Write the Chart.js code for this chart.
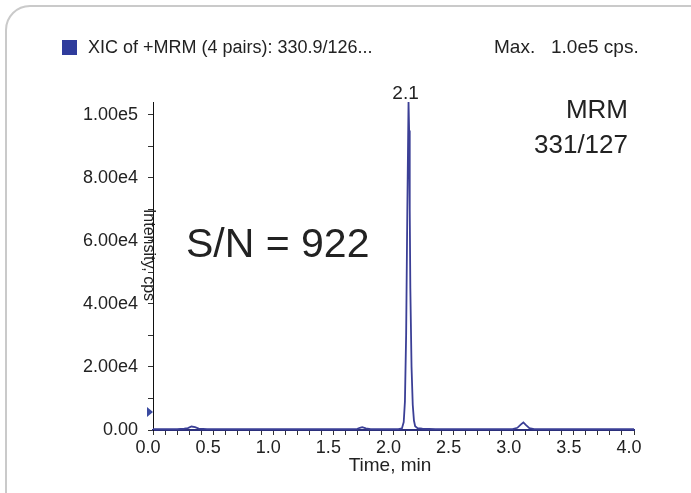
<!DOCTYPE html>
<html lang="en">

<head>
    <meta charset="UTF-8">
    <title>XIC MRM 331/127</title>
    <script src="https://cdn.jsdelivr.net/npm/chart.js"></script>
    <style>
        body {
            margin: 0;
            background: #ffffff;
        }

        .box {
            width: 691px;
            height: 493px;
            position: relative;
        }
    </style>
</head>

<body>
    <div class="box">
        <canvas id="myChartCanvas" width="691" height="493"></canvas>
    </div>

<script>
    // time (min) and intensity (cps)
    var tempos = [0.00, 0.10, 0.20, 0.26, 0.29, 0.32, 0.35, 0.38, 0.45, 0.70, 1.00, 1.30, 1.60, 1.70, 1.72, 1.74, 1.77, 1.81, 1.95,
        2.04, 2.07, 2.085, 2.095, 2.105, 2.115, 2.125, 2.13, 2.135, 2.14, 2.15, 2.16, 2.17, 2.18, 2.20, 2.24, 2.35,
        2.60, 2.90, 2.99, 3.03, 3.06, 3.08, 3.10, 3.13, 3.17, 3.40, 3.70, 4.00];
    var intensidade = [300, 300, 300, 400, 600, 1100, 900, 450, 300, 300, 300, 300, 300, 350, 700, 900, 500, 300, 300,
        300, 500, 2500, 9000, 30000, 70000, 104000, 95000, 70000, 45000, 20000, 8000, 3000, 1200, 600, 400, 300,
        300, 300, 300, 700, 1800, 2400, 1600, 600, 300, 300, 300, 300];

    // ticks: maiores com rotulo, menores so com traco
    var xTicksMaiores = [0.0, 0.5, 1.0, 1.5, 2.0, 2.5, 3.0, 3.5, 4.0];
    var xPassoMenor = 0.1;
    var yTicksMaiores = [0, 20000, 40000, 60000, 80000, 100000];
    var yLabels = ["0.00", "2.00e4", "4.00e4", "6.00e4", "8.00e4", "1.00e5"];
    var yPassoMenor = 10000;

    var pontos = [];
    for (var i = 0; i < tempos.length; i++) {
        pontos.push({ x: tempos[i], y: intensidade[i] });
    }

    var fonte = "'Liberation Sans', Arial, sans-serif";
    var corLinha = '#3b3f96';

    function montarTicks(fim, passo) {
        var lista = [];
        var n = Math.round(fim / passo);
        for (var j = 0; j <= n; j++) {
            lista.push({ value: Math.round(j * passo * 1000) / 1000 });
        }
        return lista;
    }

    // desenha moldura, textos e anotacoes
    var extras = {
        id: 'extras',
        beforeDraw: function (chart) {
            var ctx = chart.ctx;
            ctx.save();
            ctx.strokeStyle = '#cacaca';
            ctx.lineWidth = 2;
            ctx.beginPath();
            ctx.roundRect(6, 6, 720, 540, 24);
            ctx.stroke();
            ctx.restore();
        },
        afterDraw: function (chart) {
            var ctx = chart.ctx;
            var xs = chart.scales.x;
            var ys = chart.scales.y;
            ctx.save();

            // legenda
            ctx.fillStyle = '#2f3c9c';
            ctx.fillRect(62, 40, 15, 15);
            ctx.fillStyle = '#222';
            ctx.textBaseline = 'middle';
            ctx.textAlign = 'left';
            ctx.font = '18px ' + fonte;
            ctx.fillText('XIC of +MRM (4 pairs): 330.9/126...', 88, 48);
            ctx.font = '19px ' + fonte;
            ctx.fillText('Max.   1.0e5 cps.', 494, 48);

            // anotacoes
            ctx.textAlign = 'right';
            ctx.font = '26px ' + fonte;
            ctx.fillText('MRM', 628, 111);
            ctx.fillText('331/127', 628, 146);

            ctx.textAlign = 'left';
            ctx.font = '41px ' + fonte;
            ctx.fillText('S/N = 922', 186, 246);

            // rotulo do pico
            var iMax = 0;
            for (var k = 1; k < intensidade.length; k++) {
                if (intensidade[k] > intensidade[iMax]) iMax = k;
            }
            ctx.textAlign = 'center';
            ctx.textBaseline = 'bottom';
            ctx.font = '19px ' + fonte;
            ctx.fillText(tempos[iMax].toFixed(1), xs.getPixelForValue(tempos[iMax]) - 3, ys.getPixelForValue(intensidade[iMax]) + 1);

            // titulos dos eixos
            ctx.textBaseline = 'middle';
            ctx.fillText('Time, min', 390, 466);

            ctx.translate(148, 255);
            ctx.rotate(Math.PI / 2);
            ctx.font = '16px ' + fonte;
            ctx.fillText('Intensity, cps', 0, 0);
            ctx.restore();

            // marcador no eixo y
            ctx.save();
            ctx.fillStyle = '#3a4aa0';
            ctx.beginPath();
            ctx.moveTo(147, 407);
            ctx.lineTo(153, 412);
            ctx.lineTo(147, 417);
            ctx.closePath();
            ctx.fill();
            ctx.restore();
        }
    };

    var config = {
        type: 'line',
        data: {
            datasets: [{
                label: 'XIC',
                data: pontos,
                borderColor: corLinha,
                borderWidth: 1.8,
                pointRadius: 0,
                tension: 0,
                fill: false
            }]
        },
        options: {
            responsive: false,
            animation: false,
            layout: {
                padding: { left: 73, right: 57, top: 102, bottom: 23 }
            },
            plugins: {
                legend: { display: false },
                tooltip: { enabled: false }
            },
            scales: {
                x: {
                    type: 'linear',
                    min: 0,
                    max: 4,
                    afterFit: function (scale) { scale.height = 40; },
                    afterBuildTicks: function (scale) { scale.ticks = montarTicks(4, xPassoMenor); },
                    border: { color: '#2b2f7a', width: 2 },
                    grid: { drawOnChartArea: false, drawTicks: true, tickLength: 5, color: '#333' },
                    ticks: {
                        autoSkip: false,
                        maxRotation: 0,
                        padding: 2,
                        labelOffset: -5,
                        color: '#222',
                        font: { family: fonte, size: 18 },
                        callback: function (v) {
                            for (var j = 0; j < xTicksMaiores.length; j++) {
                                if (Math.abs(v - xTicksMaiores[j]) < 1e-6) return xTicksMaiores[j].toFixed(1);
                            }
                            return '';
                        }
                    }
                },
                y: {
                    min: 0,
                    max: 104000,
                    afterFit: function (scale) { scale.width = 80; },
                    afterBuildTicks: function (scale) { scale.ticks = montarTicks(100000, yPassoMenor); },
                    border: { color: '#111', width: 1 },
                    grid: { drawOnChartArea: false, drawTicks: true, tickLength: 5, color: '#333' },
                    ticks: {
                        autoSkip: false,
                        padding: 10,
                        color: '#222',
                        font: { family: fonte, size: 18 },
                        callback: function (v) {
                            var idx = yTicksMaiores.indexOf(Math.round(v));
                            return idx >= 0 ? yLabels[idx] : '';
                        }
                    }
                }
            }
        },
        plugins: [extras]
    };

    var myChart = new Chart(document.getElementById('myChartCanvas'), config);
</script>
</body>

</html>
